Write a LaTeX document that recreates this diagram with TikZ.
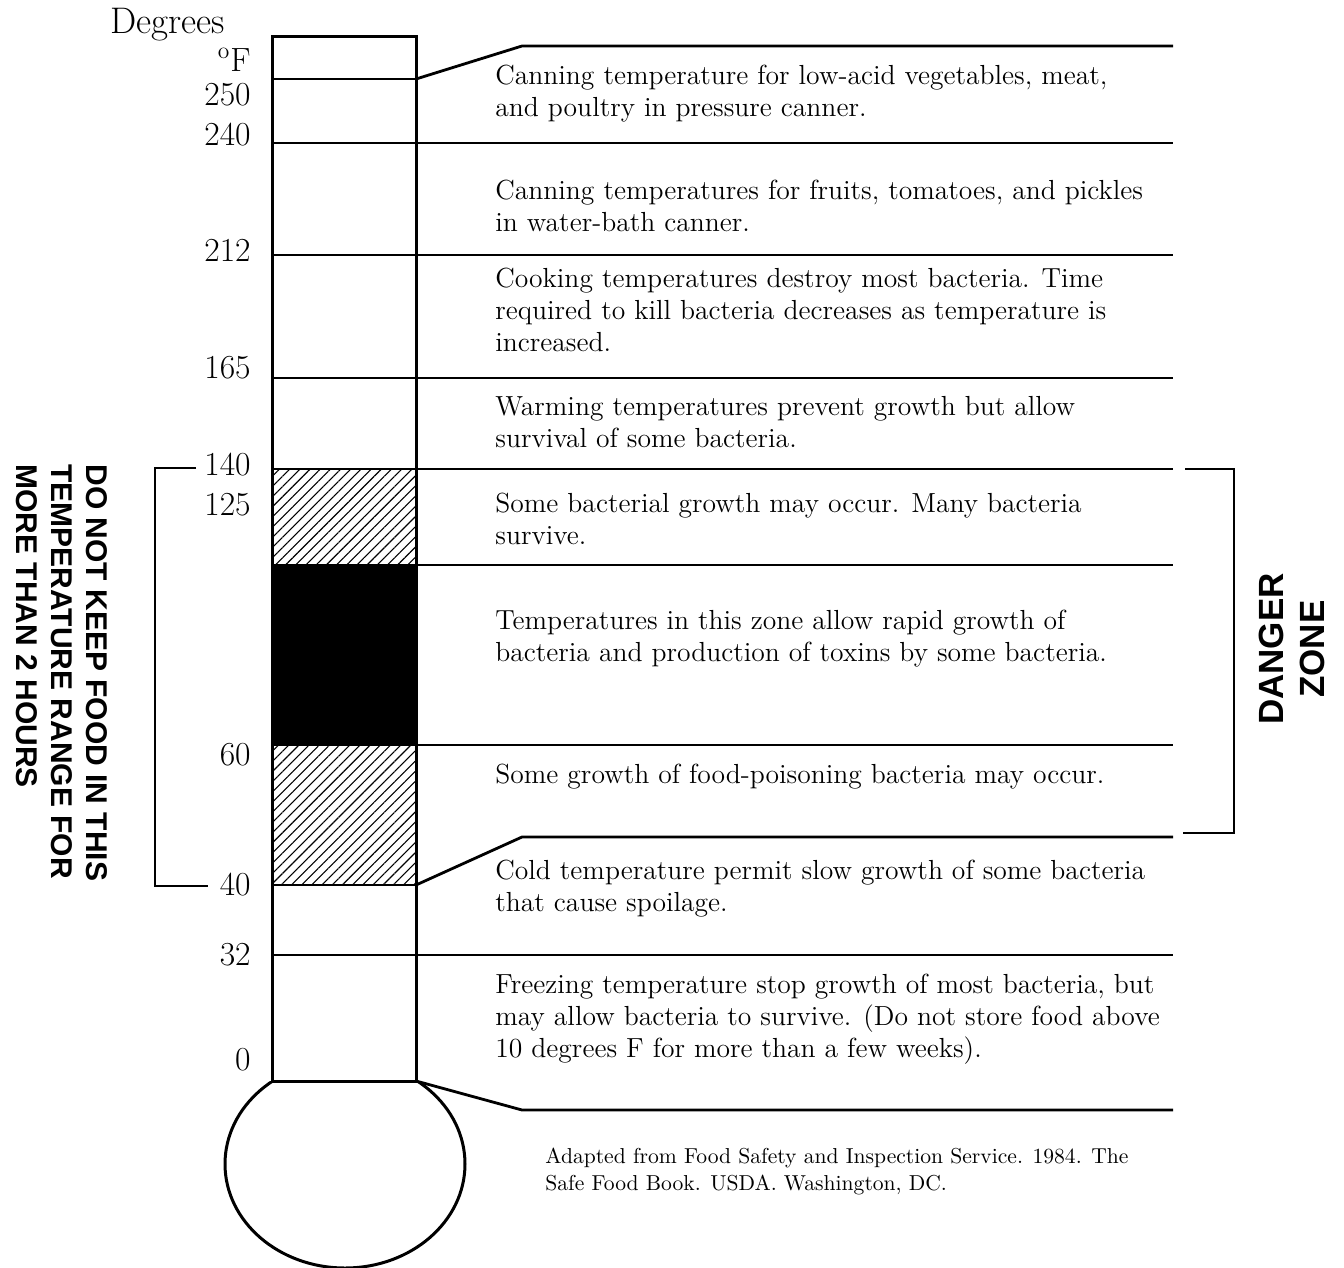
\documentclass[tikz,border=0pt]{standalone}
\usepackage{fontspec}
\newfontfamily\warnfont{Liberation Sans}
\usetikzlibrary{patterns.meta}
\tikzset{
  tube/.style={line width=1.5pt},                       % thermometer outline
  rule/.style={line width=1.4pt},                       % band dividers
  brk/.style={line width=0.9pt},                        % range brackets
  hatch/.style={pattern={Lines[angle=45,distance=3.6pt,line width=0.55pt]}},
  tick/.style={anchor=east,inner sep=0pt,font=\fontsize{16.8}{19}\selectfont},
  desc/.style={anchor=west,align=left,inner sep=0pt,font=\fontsize{13.8}{16}\selectfont},
  note/.style={anchor=west,align=left,inner sep=0pt,font=\fontsize{10.8}{13.5}\selectfont},
  warn/.style={inner sep=0pt,font=\warnfont\bfseries\fontsize{15}{17.5}\selectfont}
}

\begin{document}
\begin{tikzpicture}[x=0.5pt,y=-0.5pt]
  \useasboundingbox (0,0) rectangle (1344,1268);
  % bands in the tube
  \fill[hatch] (272,469) rectangle (416,565);
  \fill (272,565) rectangle (416,745);
  \fill[hatch] (272,745) rectangle (416,885);
  % bulb
  \begin{scope}
    \clip (200,1081) rectangle (500,1268);
    \draw[tube] (345,1164) ellipse [x radius=120,y radius=104];
  \end{scope}
  % tube and scale
  \draw[tube] (272,37) rectangle (416,1081);
  \foreach \y in {79,143,255,378,469,565,745,885,955}
    \draw[rule] (272,\y) -- (416,\y);
  \foreach \y in {143,255,378,469,565,745,955}
    \draw[rule] (416,\y) -- (1173,\y);
  \draw[rule] (416,79) -- (522,46) -- (1173,46);
  \draw[rule] (416,885) -- (522,837) -- (1173,837);
  \draw[rule] (416,1081) -- (522,1110) -- (1173,1110);
  % brackets
  \draw[brk] (196,468) -- (155,468) -- (155,886) -- (208,886);
  \draw[brk] (1185,469) -- (1234,469) -- (1234,833) -- (1183,833);

  \node[tick,anchor=west,font=\fontsize{18.5}{21}\selectfont] (deg) at (110,25) {Degrees};
  \node[tick] (degF) at (251,60) {\textsuperscript{o}F};
  \node[tick] (t250) at (251,95) {250};
  \node[tick] (t240) at (251,135) {240};
  \node[tick] (t212) at (251,250) {212};
  \node[tick] (t165) at (251,368) {165};
  \node[tick] (t140) at (251,465) {140};
  \node[tick] (t125) at (251,505) {125};
  \node[tick] (t60) at (251,755) {60};
  \node[tick] (t40) at (251,885) {40};
  \node[tick] (t32) at (251,955) {32};
  \node[tick] (t0) at (251,1060) {0};

  \node[desc] (canP) at (495,94) {Canning temperature for low-acid vegetables, meat,\\and poultry in pressure canner.};
  \node[desc] (canW) at (495,206) {Canning temperatures for fruits, tomatoes, and pickles\\in water-bath canner.};
  \node[desc] (cook) at (495,310) {Cooking temperatures destroy most bacteria. Time\\required to kill bacteria decreases as temperature is\\increased.};
  \node[desc] (warm) at (495,422) {Warming temperatures prevent growth but allow\\survival of some bacteria.};
  \node[desc] (some) at (495,519) {Some bacterial growth may occur. Many bacteria\\survive.};
  \node[desc] (rapid) at (495,639) {Temperatures in this zone allow rapid growth of\\bacteria and production of toxins by some bacteria.};
  \node[desc] (pois) at (495,777) {Some growth of food-poisoning bacteria may occur.};
  \node[desc] (cold) at (495,889) {Cold temperature permit slow growth of some bacteria\\that cause spoilage.};
  \node[desc] (frz) at (495,1019) {Freezing temperature stop growth of most bacteria, but\\may allow bacteria to survive. (Do not store food above\\10 degrees F for more than a few weeks).};
  \node[note] (src) at (545,1171) {Adapted from Food Safety and Inspection Service. 1984. The\\Safe Food Book. USDA. Washington, DC.};

  \node[warn,align=left,rotate=-90,anchor=north west] (keep) at (108,464) {DO NOT KEEP FOOD IN THIS\\TEMPERATURE RANGE FOR\\MORE THAN 2 HOURS};
  \node[warn,align=center,rotate=90,font=\warnfont\bfseries\fontsize{17.5}{20.5}\selectfont] (danger) at (1292,649) {DANGER\\ZONE};
\end{tikzpicture}
\end{document}
